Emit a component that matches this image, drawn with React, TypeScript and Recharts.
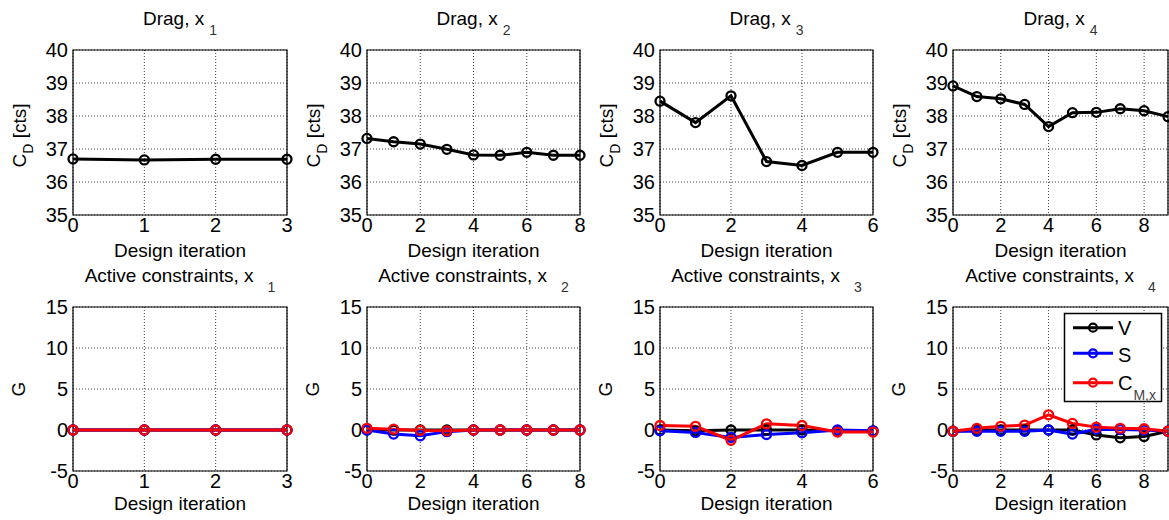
import React from 'react';
import { LineChart, Line, XAxis, YAxis, CartesianGrid, ReferenceArea, Legend } from 'recharts';

const FONT = '"Liberation Sans", Arial, Helvetica, sans-serif';

// ---- categories (design iterations) ----
const ITER_X1 = [0, 1, 2, 3];
const ITER_X2 = [0, 1, 2, 3, 4, 5, 6, 7, 8];
const ITER_X3 = [0, 1, 2, 3, 4, 5, 6];
const ITER_X4 = [0, 1, 2, 3, 4, 5, 6, 7, 8, 9];

// ---- drag values C_D [cts] ----
const DRAG_X1 = [36.7, 36.67, 36.69, 36.69];
const DRAG_X2 = [37.32, 37.22, 37.15, 36.99, 36.82, 36.81, 36.9, 36.81, 36.81];
const DRAG_X3 = [38.45, 37.8, 38.61, 36.62, 36.5, 36.9, 36.9];
const DRAG_X4 = [38.91, 38.59, 38.52, 38.35, 37.68, 38.1, 38.11, 38.22, 38.16, 37.98];

// ---- active constraints G ----
const V_X1 = [0, 0, 0, 0];
const S_X1 = [0, 0, 0, 0];
const CM_X1 = [0, 0, 0, 0];
const V_X2 = [0, 0, 0, 0, 0, 0, 0, 0, 0];
const S_X2 = [0, -0.5, -0.7, -0.2, 0, 0, 0, 0, 0];
const CM_X2 = [0.2, 0.1, -0.05, -0.1, 0, 0, 0, 0, 0];
const V_X3 = [0, -0.1, 0, 0, 0, -0.1, -0.1];
const S_X3 = [-0.1, -0.3, -0.9, -0.55, -0.35, 0, -0.1];
const CM_X3 = [0.55, 0.45, -1.25, 0.75, 0.55, -0.25, -0.25];
const V_X4 = [-0.15, 0, 0, 0, 0, 0, -0.6, -0.95, -0.8, -0.15];
const S_X4 = [-0.15, -0.15, -0.15, -0.15, 0, -0.5, 0.1, 0.05, 0, -0.15];
const CM_X4 = [-0.15, 0.2, 0.45, 0.6, 1.85, 0.8, 0.35, 0.2, 0.15, -0.15];

// ---- ticks / labels ----
const X_TICKS_X1 = [0, 1, 2, 3];
const X_TICKS_X2 = [0, 2, 4, 6, 8];
const X_TICKS_X3 = [0, 2, 4, 6];
const X_TICKS_X4 = [0, 2, 4, 6, 8];
const X_MAX = [3, 8, 6, 9];
const CD_TICKS = [35, 36, 37, 38, 39, 40];
const G_TICKS = [-5, 0, 5, 10, 15];
const PANEL_SUBS = ['1', '2', '3', '4'];
const DRAG_TITLE = 'Drag, x';
const CONSTRAINT_TITLE = 'Active constraints, x';
const X_LABEL = 'Design iteration';
const CD_LABEL = 'C';
const CD_LABEL_SUB = 'D';
const CD_LABEL_UNIT = ' [cts]';
const G_LABEL = 'G';
const SERIES_NAMES = ['V', 'S', 'C'];
const SERIES_SUBS = ['', '', 'M,x'];
const SERIES_COLORS = ['#000000', '#0000ff', '#ff0000'];

const ITERS = [ITER_X1, ITER_X2, ITER_X3, ITER_X4];
const DRAGS = [DRAG_X1, DRAG_X2, DRAG_X3, DRAG_X4];
const VS = [V_X1, V_X2, V_X3, V_X4];
const SS = [S_X1, S_X2, S_X3, S_X4];
const CMS = [CM_X1, CM_X2, CM_X3, CM_X4];
const X_TICKS = [X_TICKS_X1, X_TICKS_X2, X_TICKS_X3, X_TICKS_X4];

// ---- layout ----
const PLOT_L = [73, 367, 660, 953];
const PLOT_R = [287, 580, 873, 1168];
const TOP_ROW = { t: 50, b: 215 };
const BOT_ROW = { t: 307, b: 471 };
const Y_AXIS_W = 60;
const X_AXIS_H = 30;
const TOP_M = 10;

const tickStyle = { fontSize: 20, fill: '#000', fontFamily: FONT };

function LegendBox() {
  const rows = [14.7, 40.3, 69.7];
  const base = [22, 48.7, 77];
  return (
    <svg width={99} height={90} style={{ display: 'block', overflow: 'visible' }}>
      <rect x={0.5} y={0.5} width={97} height={88} fill="#fff" stroke="#000" strokeWidth={1.5} />
      {SERIES_NAMES.map((n, i) => (
        <g key={n}>
          <line x1={9} x2={49} y1={rows[i]} y2={rows[i]} stroke={SERIES_COLORS[i]} strokeWidth={3} />
          <circle cx={29} cy={rows[i]} r={4} fill="none" stroke={SERIES_COLORS[i]} strokeWidth={2.2} />
          <text x={54} y={base[i]} fontSize={20} fontFamily={FONT} fill="#000">
            {n}
            {SERIES_SUBS[i] ? (
              <tspan dx={1} dy={10} fontSize={14} fill="#444">
                {SERIES_SUBS[i]}
              </tspan>
            ) : null}
          </text>
        </g>
      ))}
    </svg>
  );
}

function Panel({ idx, row }: { idx: number; row: 'top' | 'bot' }) {
  const L = PLOT_L[idx];
  const R = PLOT_R[idx];
  const rr = row === 'top' ? TOP_ROW : BOT_ROW;
  const marginRight = idx === 3 ? 1 : 10;
  const width = R - L + Y_AXIS_W + marginRight;
  const height = rr.b - rr.t + TOP_M + X_AXIS_H;
  const iters = ITERS[idx];
  const data = iters.map((it, k) => ({
    iter: it,
    cd: DRAGS[idx][k],
    v: VS[idx][k],
    s: SS[idx][k],
    cm: CMS[idx][k],
  }));
  const yDomain = row === 'top' ? [35, 40] : [-5, 15];
  const yTicks = row === 'top' ? CD_TICKS : G_TICKS;
  const xMax = X_MAX[idx];
  const dotFor = (c: string) => ({ r: 4.5, fill: 'none', stroke: c, strokeWidth: 2.3 });
  return (
    <div style={{ position: 'absolute', left: L - Y_AXIS_W, top: rr.t - TOP_M, width, height }}>
      <LineChart
        width={width}
        height={height}
        data={data}
        margin={{ top: TOP_M, right: marginRight, bottom: 0, left: 0 }}
      >
        <CartesianGrid stroke="#000" strokeOpacity={0.75} strokeDasharray="1 2" />
        <XAxis
          dataKey="iter"
          type="number"
          domain={[0, xMax]}
          ticks={X_TICKS[idx]}
          height={X_AXIS_H}
          tickLine={false}
          axisLine={false}
          tickSize={3}
          tickMargin={0}
          tick={tickStyle}
          interval={0}
        />
        <YAxis
          type="number"
          domain={yDomain}
          ticks={yTicks}
          width={Y_AXIS_W}
          tickLine={false}
          axisLine={false}
          tickSize={3}
          tickMargin={2}
          tick={tickStyle}
          interval={0}
        />
        <ReferenceArea x1={0} x2={xMax} y1={yDomain[0]} y2={yDomain[1]} fill="none" stroke="#000" strokeWidth={1.2} />
        {row === 'top' ? (
          <Line type="linear" dataKey="cd" stroke="#000" strokeWidth={3} dot={dotFor('#000')} activeDot={false} isAnimationActive={false} />
        ) : null}
        {row === 'bot' ? (
          <Line type="linear" dataKey="v" name={SERIES_NAMES[0]} stroke={SERIES_COLORS[0]} strokeWidth={3} dot={dotFor(SERIES_COLORS[0])} activeDot={false} isAnimationActive={false} />
        ) : null}
        {row === 'bot' ? (
          <Line type="linear" dataKey="s" name={SERIES_NAMES[1]} stroke={SERIES_COLORS[1]} strokeWidth={3} dot={dotFor(SERIES_COLORS[1])} activeDot={false} isAnimationActive={false} />
        ) : null}
        {row === 'bot' ? (
          <Line type="linear" dataKey="cm" name={SERIES_NAMES[2]} stroke={SERIES_COLORS[2]} strokeWidth={3} dot={dotFor(SERIES_COLORS[2])} activeDot={false} isAnimationActive={false} />
        ) : null}
        {row === 'bot' && idx === 3 ? (
          <Legend
            layout="vertical"
            align="center"
            verticalAlign="middle"
            content={() => <LegendBox />}
            wrapperStyle={{ position: 'absolute', left: 1064 - (L - Y_AXIS_W), top: 313 - (rr.t - TOP_M), width: 99, height: 90 }}
          />
        ) : null}
      </LineChart>
    </div>
  );
}

function Overlay() {
  return (
    <svg
      width={1169}
      height={520}
      style={{ position: 'absolute', left: 0, top: 0, pointerEvents: 'none' }}
      fontFamily={FONT}
    >
      {PLOT_L.map((L, i) => {
        const R = PLOT_R[i];
        const cx = (L + R) / 2;
        const topMid = (TOP_ROW.t + TOP_ROW.b) / 2;
        const botMid = (BOT_ROW.t + BOT_ROW.b) / 2;
        return (
          <g key={i}>
            <text x={cx} y={25} textAnchor="middle" fontSize={19} fill="#000">
              {DRAG_TITLE}
              <tspan dx={5} dy={10} fontSize={14} fill="#333">
                {PANEL_SUBS[i]}
              </tspan>
            </text>
            <text x={cx} y={282} textAnchor="middle" fontSize={19} fill="#000">
              {CONSTRAINT_TITLE}
              <tspan dx={14} dy={10} fontSize={14} fill="#333">
                {PANEL_SUBS[i]}
              </tspan>
            </text>
            <text x={cx} y={257} textAnchor="middle" fontSize={19} fill="#000">
              {X_LABEL}
            </text>
            <text x={cx} y={510} textAnchor="middle" fontSize={19} fill="#000">
              {X_LABEL}
            </text>
            <text
              x={L - 47}
              y={topMid + 3}
              textAnchor="middle"
              fontSize={19}
              fill="#000"
              transform={`rotate(-90 ${L - 47} ${topMid + 3})`}
            >
              {CD_LABEL}
              <tspan dy={7} fontSize={14}>
                {CD_LABEL_SUB}
              </tspan>
              <tspan dy={-7}>{CD_LABEL_UNIT}</tspan>
            </text>
            <text
              x={L - 48}
              y={botMid}
              textAnchor="middle"
              fontSize={19}
              fill="#000"
              transform={`rotate(-90 ${L - 48} ${botMid})`}
            >
              {G_LABEL}
            </text>
          </g>
        );
      })}
    </svg>
  );
}

export default function App() {
  return (
    <div style={{ position: 'absolute', left: 0, top: 0, width: 1169, height: 520, background: '#fff', overflow: 'hidden', fontFamily: FONT }}>
      {[0, 1, 2, 3].map((i) => (
        <Panel key={`t${i}`} idx={i} row="top" />
      ))}
      {[0, 1, 2, 3].map((i) => (
        <Panel key={`b${i}`} idx={i} row="bot" />
      ))}
      <Overlay />
    </div>
  );
}
